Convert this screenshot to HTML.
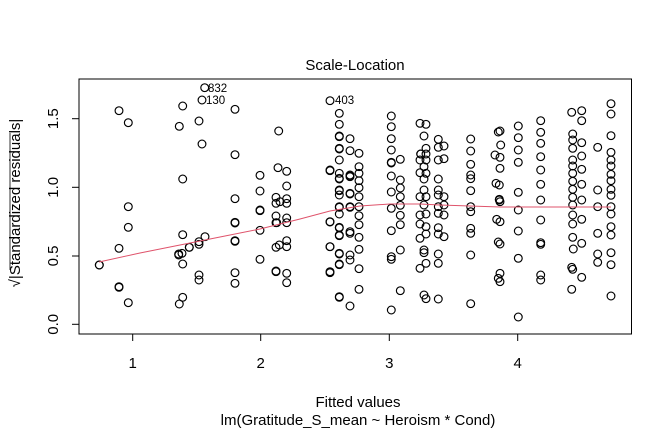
<!DOCTYPE html>
<html><head><meta charset="utf-8"><style>
html,body{margin:0;padding:0;background:#fff;}
svg{display:block;font-family:"Liberation Sans",Arial,sans-serif;}
</style></head><body>
<svg id="s" width="672" height="432" viewBox="0 0 672 432" xmlns="http://www.w3.org/2000/svg">
<rect x="0" y="0" width="672" height="432" fill="#fff"/>
<text x="355" y="70" font-size="15" text-anchor="middle">Scale-Location</text>
<rect x="79" y="79" width="552.5" height="255" fill="none" stroke="#000" stroke-width="1"/>
<g stroke="#000" stroke-width="1">
<line x1="132.7" y1="334" x2="132.7" y2="341"/>
<line x1="260.7" y1="334" x2="260.7" y2="341"/>
<line x1="389.3" y1="334" x2="389.3" y2="341"/>
<line x1="517.7" y1="334" x2="517.7" y2="341"/>
<line x1="72" y1="324.3" x2="79" y2="324.3"/>
<line x1="72" y1="256" x2="79" y2="256"/>
<line x1="72" y1="187.3" x2="79" y2="187.3"/>
<line x1="72" y1="118.7" x2="79" y2="118.7"/>
</g>
<g font-size="15" text-anchor="middle">
<text x="132.7" y="368">1</text>
<text x="260.7" y="368">2</text>
<text x="389.3" y="368">3</text>
<text x="517.7" y="368">4</text>
<text transform="translate(58,324.3) rotate(-90)">0.0</text>
<text transform="translate(58,256) rotate(-90)">0.5</text>
<text transform="translate(58,187.3) rotate(-90)">1.0</text>
<text transform="translate(58,118.7) rotate(-90)">1.5</text>
<text x="358" y="407">Fitted values</text>
<text x="358" y="425">lm(Gratitude_S_mean ~ Heroism * Cond)</text>
<text transform="translate(20,203) rotate(-90)">√|Standardized residuals|</text>
</g>
<line x1="10" y1="133" x2="10" y2="270" stroke="#000" stroke-width="0.8"/>
<g font-size="11.5">
<text x="208" y="92">832</text>
<text x="206" y="104">130</text>
<text x="335" y="104">403</text>
</g>
<g id="pts" fill="none" stroke="#000" stroke-width="1.15"></g>
<polyline fill="none" stroke="#DF536B" stroke-width="1" points="99,262 140,253 180,245 220,237 260,229 300,219 330,211 360,206 390,204 420,204 440,205 470,206 500,207 540,207 580,207 611,207"/>
</svg>
<script>
var L=[[298,[615,615]],[357,[152,565,680,682]],[385,[188,440,502,728]],
[538,[199,732]],[548,[138,357,524,612,712]],[536,[585,582]],[546,[580]],[568,[562,562]],
[597,[183,545,553,645,660]],[606,[252,120]],[615,[530]],[614,[83]],
[705,[148,284,416,487,489,542,544,638,670]],[780,[346,393,450,452,511,598]],
[836,[213]],[834,[323]],[828,[412,430,468,488,562,633,635]],[830,[488]],[838,[555]],[840,[425]],
[860,[334,378,416,430,474,488,542,560,640,668]],[990,[122,332,486,560,638]]];
var R=[[28,[160,193,228,230,265,267,300,340,355,357,390,392,405,440,442,462,502,504,525,527,580,582,612,614,710,712]],
[60,[236,272,345,348,350,400,402,440,442,515,520,585,600,738]],
[87,[280,320,340,362,383,410,440,467,494,532,568,626,688]],
[184,[168,200,236,270,307,309,348,396,445,512,590,598,750]],
[211,[298,360,384,410,436,466,494,570,692]],
[270,[190,300,338,410,465,492,535,625]],[288,[193,265,282,300,340,410,462,500,522,610,716]],
[282,[228,320,357,390,435,570,578,705]],[272,[282,282]],
[325,[238,262,300,357,390,405,440,460,503,522,582,610,717]],[342,[258,296,410,435,465,530]],
[422,[237,273,313,345,356,392,440,455,505,520,585,731]],
[510,[213,292,325,425,485,552,640,665]],[505,[216,546,655]],[512,[255]],[495,[285]],[498,[370]],[508,[375,418,420]],[500,[478]],
[565,[198,233,270,307,397,450,513,595,771]],
[632,[182,217,250,290,330,373,420,480,548,553,645,660]],
[725,[157,622,688]],[755,[152,182,248,288,328,373,420,478,550,652]],
[728,[222,240,265,300,318,340,364,388,412,435,465,492,532,628]],[730,[567]],
[803,[262,390,440,520,582,607]],
[843,[131,162,227,277,300,318,343,362,388,406,440,462,500,525,578,614,708]],
[0,[330,485,560,635]]];
var g=document.getElementById('pts'),h='';
function add(px,arr){arr.forEach(function(v){h+='<circle cx="'+px.toFixed(1)+'" cy="'+(60+v/3).toFixed(1)+'" r="3.9"/>';});}
L.forEach(function(c){add(c[0]/3,c[1]);});
R.forEach(function(c){add(330+c[0]/3,c[1]);});
g.innerHTML=h;
</script>
</body></html>
